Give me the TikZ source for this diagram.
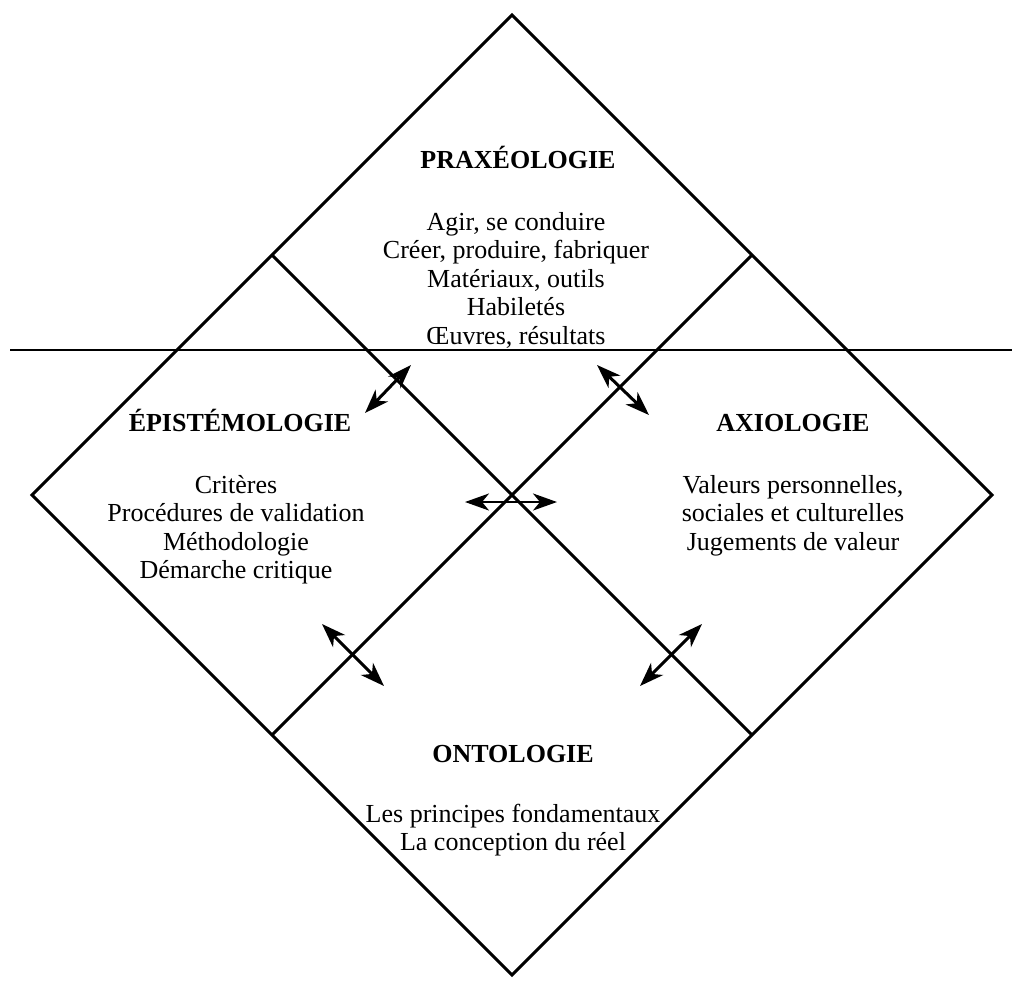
\documentclass[tikz,border=0pt]{standalone}
\usepackage{fontspec}
\setmainfont{Liberation Serif}
\usetikzlibrary{arrows.meta}
\begin{document}
\begin{tikzpicture}[x=1pt,y=-1pt,
  edge/.style={line width=3pt, line join=miter},
  hline/.style={line width=2.4pt},
  tip/.tip={Stealth[length=24pt,width=17pt,inset=7pt]},
  dbl/.style={line width=3pt, tip-tip},
  title/.style={font=\fontsize{26}{28.5}\selectfont\bfseries, anchor=base, inner sep=0pt},
  body/.style={font=\fontsize{26}{28.5}\selectfont, anchor=base, inner sep=0pt}]
\useasboundingbox (0,0) rectangle (1012,986);
% vertices
\coordinate (T) at (512,15);
\coordinate (L) at (32,495);
\coordinate (R) at (992,495);
\coordinate (B) at (512,975);
\coordinate (C) at (512,495);
\coordinate (TL) at (272,255);
\coordinate (TR) at (752,255);
\coordinate (BL) at (272,735);
\coordinate (BR) at (752,735);
\coordinate (hl) at (10,350);
\coordinate (hr) at (1012,350);
% diamonds
\draw[edge] (T) -- (L) -- (B) -- (R) -- cycle;
\draw[edge] (TL) -- (BR);
\draw[edge] (TR) -- (BL);
\draw[hline] (hl) -- (hr);
% texts
\node[title] (pt) at (518,168) {PRAXÉOLOGIE};
\node[body] (p1) at (516,230) {Agir, se conduire};
\node[body] (p2) at (516,258.5) {Créer, produire, fabriquer};
\node[body] (p3) at (516,287) {Matériaux, outils};
\node[body] (p4) at (516,315.5) {Habiletés};
\node[body] (p5) at (516,344) {Œuvres, résultats};
\node[title] (et) at (240,431) {ÉPISTÉMOLOGIE};
\node[body] (e1) at (236,493) {Critères};
\node[body] (e2) at (236,521.5) {Procédures de validation};
\node[body] (e3) at (236,550) {Méthodologie};
\node[body] (e4) at (236,578.5) {Démarche critique};
\node[title] (at) at (793,431) {AXIOLOGIE};
\node[body] (a1) at (793,493) {Valeurs personnelles,};
\node[body] (a2) at (793,521.5) {sociales et culturelles};
\node[body] (a3) at (793,550) {Jugements de valeur};
\node[title] (ot) at (513,762) {ONTOLOGIE};
\node[body] (o1) at (513,822) {Les principes fondamentaux};
\node[body] (o2) at (513,850.5) {La conception du réel};
% arrows
\coordinate (a1s) at (411,365); \coordinate (a1e) at (365,413);
\coordinate (a2s) at (597,365); \coordinate (a2e) at (649,415);
\coordinate (a3s) at (322,624); \coordinate (a3e) at (384,686);
\coordinate (a4s) at (702,624); \coordinate (a4e) at (640,686);
\coordinate (a5s) at (465,502); \coordinate (a5e) at (557,502);
\draw[dbl] (a1s) -- (a1e);
\draw[dbl] (a2s) -- (a2e);
\draw[dbl] (a3s) -- (a3e);
\draw[dbl] (a4s) -- (a4e);
\draw[dbl, line width=2.6pt] (a5s) -- (a5e);
\end{tikzpicture}
\end{document}
